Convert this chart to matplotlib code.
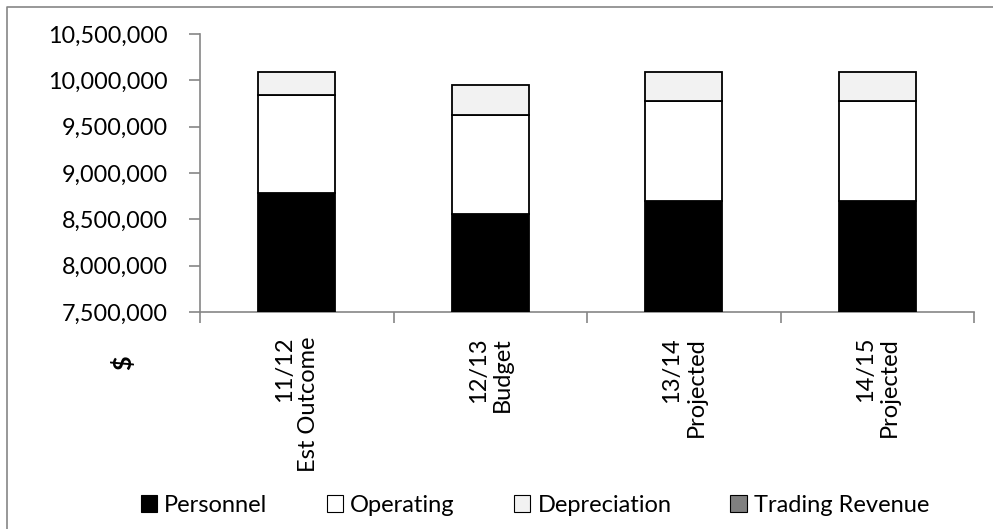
import matplotlib.pyplot as plt
from matplotlib.patches import Patch
from matplotlib.lines import Line2D
from matplotlib.ticker import FuncFormatter
import numpy as np

plt.rcParams['font.family'] = ['Lato', 'DejaVu Sans']

categories = ['11/12\nEst Outcome', '12/13\nBudget', '13/14\nProjected', '14/15\nProjected']
personnel = [8784000, 8554000, 8694000, 8694000]
operating = [1061000, 1072000, 1079000, 1079000]
depreciation = [245000, 327000, 320000, 320000]
trading_revenue = [0, 0, 0, 0]

series = [
    ('Personnel', personnel, '#000000'),
    ('Operating', operating, '#ffffff'),
    ('Depreciation', depreciation, '#f2f2f2'),
    ('Trading Revenue', trading_revenue, '#808080'),
]

W, H = 993, 529
fig = plt.figure(figsize=(W / 100, H / 100), dpi=100)
ax = fig.add_axes([200 / W, 1 - 312 / H, 774 / W, 278 / H])

# chart border (left and top edges)
fig.add_artist(Line2D([7 / W, 7 / W, 1.0], [0.0, 1 - 7 / H, 1 - 7 / H], transform=fig.transFigure,
                      color='#868686', linewidth=1.2))

x = np.arange(len(categories))
bottom = np.zeros(len(categories))
handles = []
for name, vals, color in series:
    vals = np.array(vals, dtype=float)
    lw = 1.3 if vals.any() else 0
    ax.bar(x, vals, width=0.4, bottom=bottom, color=color, edgecolor='black', linewidth=lw, zorder=3)
    bottom += vals
    handles.append(Patch(facecolor=color, edgecolor='black', linewidth=0.8, label=name))

ax.set_ylim(7500000, 10500000)
ax.set_xlim(-0.5, len(categories) - 0.5)
ax.set_yticks(np.arange(7500000, 10500001, 500000))
ax.yaxis.set_major_formatter(FuncFormatter(lambda v, p: f'{v:,.0f}'))

# category boundaries carry the ticks, labels sit between them
ax.set_xticks(np.arange(-0.5, len(categories)), labels=[])
ax.set_xticks(x, minor=True)
ax.set_xticklabels(categories, minor=True, rotation=90, ha='center', va='top',
                   multialignment='right', fontsize=17, linespacing=1.2)
ax.tick_params(axis='x', which='minor', length=0, pad=18)
ax.tick_params(axis='x', which='major', length=8, color='#868686', width=1.2)
ax.tick_params(axis='y', length=8, color='#868686', width=1.2, labelsize=16.8, pad=15)

for side in ('top', 'right'):
    ax.spines[side].set_visible(False)
for side in ('left', 'bottom'):
    ax.spines[side].set_color('#868686')
    ax.spines[side].set_linewidth(1.2)

fig.text(123 / W, 1 - 363 / H, '$', rotation=90, ha='center', va='center',
         fontsize=18, fontweight='bold')

fig.legend(handles=handles, loc='center', bbox_to_anchor=(535 / W, 1 - 505 / H), ncol=4,
           frameon=False, fontsize=17, handlelength=0.7, handleheight=0.7,
           handletextpad=0.3, columnspacing=2.5)

fig.savefig('out.png', dpi=100)
